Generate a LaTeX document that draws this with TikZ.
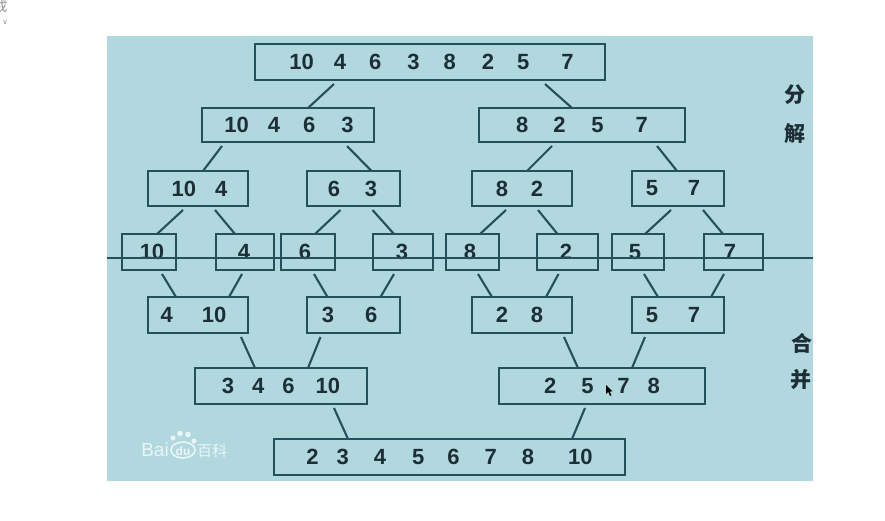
\documentclass[tikz,border=0pt]{standalone}
\usepackage{fontspec}
\setmainfont{Liberation Sans}
\newfontfamily\cjkfont{Noto Sans CJK SC}
\usetikzlibrary{calc}
\definecolor{panel}{HTML}{B0D8DE}
\definecolor{ink}{HTML}{24505C}
\definecolor{digit}{HTML}{1E2E36}
\newcommand{\gp}[1]{\kern#1pt\relax}
\newcommand{\conn}[4]{\draw[link] ($(#1.south)+(#2,4)$) -- ($(#3.north)+(#4,0)$);}
\tikzset{
  x=1pt,y=-1pt,
  numbox/.style 2 args={draw=ink,line width=2.3pt,inner sep=0pt,outer sep=0pt,
    minimum width=#1pt,minimum height=#2pt,text=digit,
    font=\fontsize{22}{22}\selectfont\bfseries},
  link/.style={draw=ink,line width=2.1pt},
  hanzi/.style={text=digit,inner sep=0pt,font=\fontsize{21}{21}\selectfont\cjkfont\bfseries},
  wmark/.style={inner sep=0pt,text=white,opacity=.75}
}
\begin{document}
\begin{tikzpicture}
\useasboundingbox (0,0) rectangle (885,520);
\fill[white] (0,0) rectangle (885,520);
\fill[panel] (107,36) rectangle (813,481);
% level 1
\node[numbox={350}{36}] (top) at (430,62) {\gp{3}10\gp{20}4\gp{23}6\gp{26}3\gp{24}8\gp{26}2\gp{23}5\gp{32}7};
% level 2
\node[numbox={172}{34}] (la) at (288,125) {\gp{2}10\gp{19}4\gp{23}6\gp{26}3};
\node[numbox={206}{34}] (lb) at (582,125) {8\gp{25}2\gp{26}5\gp{32}7};
% level 3
\node[numbox={100}{35}] (ta) at (198,188.5) {\gp{3}10\gp{19}4};
\node[numbox={93}{35}] (tb) at (353.5,188.5) {6\gp{25}3\gp{2}};
\node[numbox={100}{35}] (tc) at (522,188.5) {8\gp{23}2\gp{5}};
\node[numbox={92}{35}] (td) at (678,188.5) {5\gp{30}7\gp{10}};
% singles
\node[numbox={54}{36}] (s10) at (149,252) {\gp{6}10};
\node[numbox={58}{36}] (s4) at (245,252) {4\gp{2}};
\node[numbox={54}{36}] (s6) at (308,252) {6\gp{6}};
\node[numbox={60}{36}] (s3) at (403,252) {3\gp{2}};
\node[numbox={53}{36}] (s8) at (472.5,252) {8\gp{5}};
\node[numbox={61}{36}] (s2) at (567.5,252) {2\gp{3}};
\node[numbox={52}{36}] (s5) at (638,252) {5\gp{6}};
\node[numbox={59}{36}] (s7) at (733.5,252) {7\gp{7}};
% merged pairs
\node[numbox={100}{36}] (ma) at (198,315) {4\gp{29}10\gp{9}};
\node[numbox={93}{36}] (mb) at (353.5,315) {3\gp{31}6\gp{8}};
\node[numbox={100}{36}] (mc) at (522,315) {2\gp{23}8\gp{5}};
\node[numbox={92}{36}] (md) at (678,315) {5\gp{30}7\gp{10}};
% merged fours
\node[numbox={172}{36}] (fa) at (281,386) {3\gp{18}4\gp{18}6\gp{21}10};
\node[numbox={206}{36}] (fb) at (602,386) {2\gp{25}5\gp{24}7\gp{18}8};
% result
\node[numbox={351}{36}] (res) at (449.5,457) {2\gp{18}3\gp{25}4\gp{26}5\gp{23}6\gp{25}7\gp{25}8\gp{34}10};
% connectors
\conn{top}{-96}{la}{20}
\conn{top}{115}{lb}{-10}
\conn{la}{-66}{ta}{5}
\conn{la}{59}{tb}{18}
\conn{lb}{-30}{tc}{5}
\conn{lb}{75}{td}{-1}
\conn{ta}{-15}{s10}{8}
\conn{ta}{17}{s4}{-10}
\conn{tb}{-13}{s6}{7}
\conn{tb}{19}{s3}{-9}
\conn{tc}{-16}{s8}{7.5}
\conn{tc}{16}{s2}{-10}
\conn{td}{-7}{s5}{7}
\conn{td}{25}{s7}{-10.5}
\conn{s10}{13}{ma}{-22}
\conn{s4}{-3}{ma}{31}
\conn{s6}{6}{mb}{-26}
\conn{s3}{-9}{mb}{27}
\conn{s8}{5.5}{mc}{-30}
\conn{s2}{-9}{mc}{24}
\conn{s5}{6}{md}{-20}
\conn{s7}{-9.5}{md}{33}
\conn{ma}{43}{fa}{-26}
\conn{mb}{-33}{fa}{27}
\conn{mc}{42}{fb}{-24}
\conn{md}{-33}{fb}{30}
\conn{fa}{53}{res}{-101.5}
\conn{fb}{-17}{res}{122.5}
% dividing line
\coordinate (divl) at (107,258);
\coordinate (divr) at (813,258);
\draw[ink,line width=2pt] (divl) -- (divr);
% side labels
\node[hanzi] (n1) at (795,95) {分};
\node[hanzi] (n2) at (795,134) {解};
\node[hanzi] (n3) at (802,343) {合};
\node[hanzi] (n4) at (801,380) {并};
% watermark
\node[wmark,font=\fontsize{19}{19}\selectfont] (wb) at (155,450) {Bai};
\fill[white,opacity=.75] (173,438) circle (2.6) (180,433.5) circle (2.8) (188,434.5) circle (2.8) (194,441) circle (2.6);
\draw[white,opacity=.75,line width=1.6pt] (183,450) ellipse (12 and 8);
\node[wmark,font=\fontsize{12}{12}\selectfont\bfseries] (wd) at (183,451) {du};
\node[wmark,font=\fontsize{15}{15}\selectfont\cjkfont] (wk) at (212,451) {百科};
% screen debris
\fill[black] (606,385) -- (606,394) -- (608.3,392) -- (610,396) -- (611.5,395.3) -- (609.8,391.6) -- (612.5,391.3) -- cycle;
\node[inner sep=0pt,text=black!45,font=\fontsize{13}{13}\selectfont\cjkfont] (cut) at (1,7) {成};
\node[inner sep=0pt,text=black!45,font=\fontsize{8}{8}\selectfont] (chev) at (5,22) {v};
\end{tikzpicture}
\end{document}
